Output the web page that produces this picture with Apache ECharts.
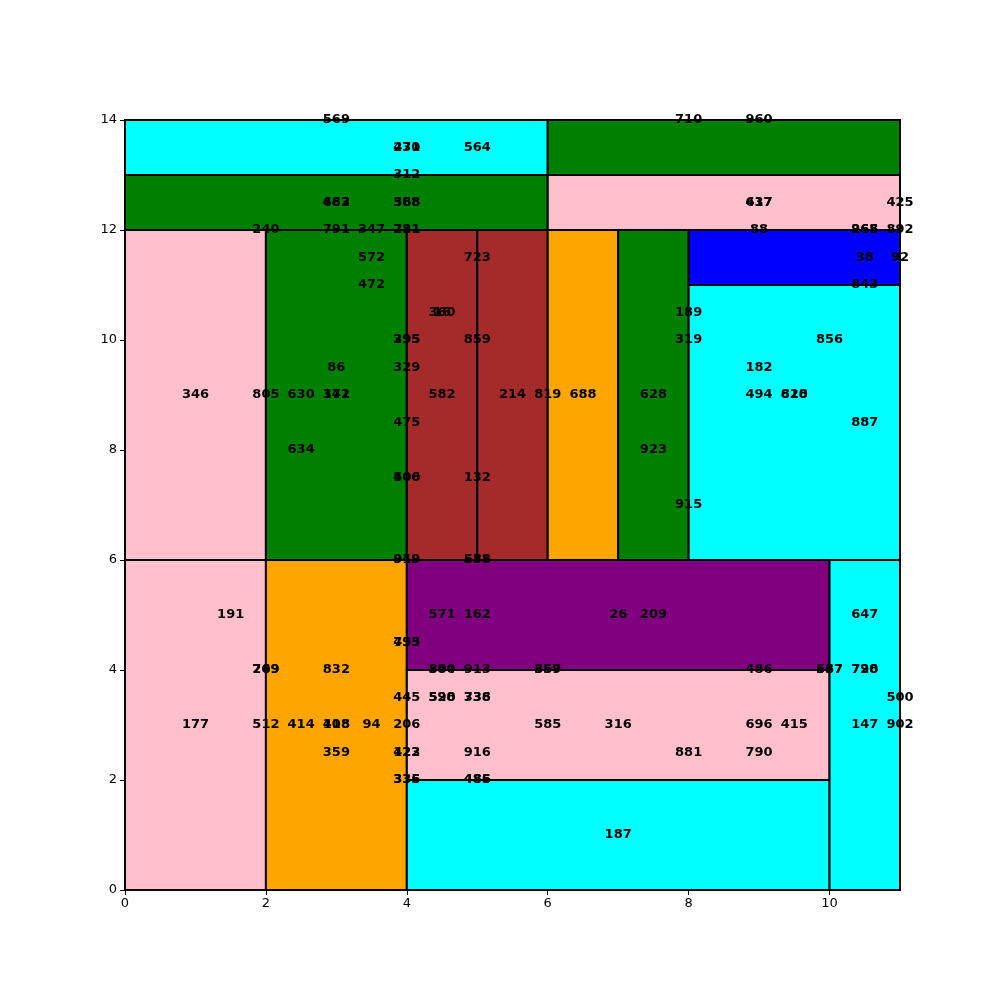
<!DOCTYPE html>
<html>
<head>
<meta charset="utf-8">
<script src="https://cdn.jsdelivr.net/npm/echarts@6/dist/echarts.min.js"></script>
<style>html,body{margin:0;padding:0;background:#fff}#c{width:1000px;height:1000px}</style>
</head>
<body>
<div id="c"></div>
<script>
// Rectangles (data units)
var rectX0 = [0, 6, 0, 6, 0, 2, 4, 5, 6, 7, 8, 8, 0, 2, 4, 4, 4, 10];
var rectY0 = [13, 13, 12, 12, 6, 6, 6, 6, 6, 6, 11, 6, 0, 0, 4, 2, 0, 0];
var rectX1 = [6, 11, 6, 11, 2, 4, 5, 6, 7, 8, 11, 11, 2, 4, 10, 10, 10, 11];
var rectY1 = [14, 14, 13, 13, 12, 12, 12, 12, 12, 12, 12, 11, 6, 6, 6, 4, 2, 6];
var rectColor = ['cyan', 'green', 'green', 'pink', 'pink', 'green', 'brown', 'brown', 'orange', 'green', 'blue', 'cyan', 'pink', 'orange', 'purple', 'pink', 'cyan', 'cyan'];

// Text labels
var labelX = [3, 8, 9, 4, 4, 5, 4, 3, 3, 4, 4, 9, 9, 11, 2, 3, 3.5, 4, 4, 9, 10.5, 10.5, 11, 3.5, 5, 10.5, 11, 3.5, 10.5, 4.5, 4.5, 8, 4, 4, 5, 8, 10, 3, 4, 9, 1, 2, 2.5, 3, 3, 4.5, 5.5, 6, 6.5, 7.5, 9, 9.5, 9.5, 4, 10.5, 2.5, 7.5, 4, 4, 5, 8, 4, 4, 5, 5, 1.5, 4.5, 5, 7, 7.5, 10.5, 4, 4, 2, 2, 3, 4.5, 4.5, 5, 6, 6, 9, 10, 10, 10.5, 10.5, 4, 4.5, 4.5, 5, 5, 11, 1, 2, 2.5, 3, 3, 3.5, 4, 6, 7, 9, 9.5, 10.5, 11, 3, 4, 4, 5, 8, 9, 4, 4, 5, 5, 7];
var labelY = [14, 14, 14, 13.5, 13.5, 13.5, 13, 12.5, 12.5, 12.5, 12.5, 12.5, 12.5, 12.5, 12, 12, 12, 12, 12, 12, 12, 12, 12, 11.5, 11.5, 11.5, 11.5, 11, 11, 10.5, 10.5, 10.5, 10, 10, 10, 10, 10, 9.5, 9.5, 9.5, 9, 9, 9, 9, 9, 9, 9, 9, 9, 9, 9, 9, 9, 8.5, 8.5, 8, 8, 7.5, 7.5, 7.5, 7, 6, 6, 6, 6, 5, 5, 5, 5, 5, 5, 4.5, 4.5, 4, 4, 4, 4, 4, 4, 4, 4, 4, 4, 4, 4, 4, 3.5, 3.5, 3.5, 3.5, 3.5, 3.5, 3, 3, 3, 3, 3, 3, 3, 3, 3, 3, 3, 3, 3, 2.5, 2.5, 2.5, 2.5, 2.5, 2.5, 2, 2, 2, 2, 1];
var labelText = ['569', '710', '960', '430', '271', '564', '312', '483', '662', '368', '588', '417', '637', '425', '240', '791', '347', '721', '281', '88', '965', '268', '892', '572', '723', '38', '92', '472', '843', '360', '16', '189', '395', '295', '859', '319', '856', '86', '329', '182', '346', '805', '630', '342', '171', '582', '214', '819', '688', '628', '494', '620', '818', '475', '887', '634', '923', '500', '406', '132', '915', '949', '919', '538', '588', '191', '571', '162', '26', '209', '647', '795', '433', '709', '269', '832', '380', '804', '913', '357', '559', '486', '567', '537', '728', '790', '445', '598', '520', '736', '338', '500', '177', '512', '414', '408', '118', '94', '206', '585', '316', '696', '415', '147', '902', '359', '422', '123', '916', '881', '790', '335', '336', '485', '486', '187'];

// Axis ticks
var xTicks = [0, 2, 4, 6, 8, 10];
var yTicks = [0, 2, 4, 6, 8, 10, 12, 14];

var colorMap = {cyan: '#00ffff', green: '#008000', pink: '#ffc0cb', brown: '#a52a2a', orange: '#ffa500', blue: '#0000ff', purple: '#800080'};

var rectData = rectX0.map(function (x0, i) { return [x0, rectY0[i], rectX1[i], rectY1[i], i]; });
var labelData = labelX.map(function (x, i) { return [x, labelY[i], i]; });

var chart = echarts.init(document.getElementById('c'), null, {renderer: 'canvas'});
var axisFont = {fontFamily: 'DejaVu Sans', fontSize: 13, color: '#000'};
chart.setOption({
  animation: false,
  backgroundColor: '#fff',
  grid: {left: 125, right: 100, top: 120, bottom: 110, show: true, borderColor: '#000', borderWidth: 1, backgroundColor: 'transparent'},
  xAxis: {
    type: 'value', min: 0, max: 11, interval: 2,
    axisLine: {show: true, lineStyle: {color: '#000'}},
    axisTick: {show: true, inside: false, length: 5, lineStyle: {color: '#000'}},
    axisLabel: Object.assign({margin: 7, showMaxLabel: false, formatter: function (v) { return xTicks.indexOf(v) >= 0 ? String(v) : ''; }}, axisFont),
    splitLine: {show: false}
  },
  yAxis: {
    type: 'value', min: 0, max: 14, interval: 2,
    axisLine: {show: true, lineStyle: {color: '#000'}},
    axisTick: {show: true, inside: false, length: 5, lineStyle: {color: '#000'}},
    axisLabel: Object.assign({margin: 8, formatter: function (v) { return yTicks.indexOf(v) >= 0 ? String(v) : ''; }}, axisFont),
    splitLine: {show: false}
  },
  series: [
    {
      type: 'custom',
      data: rectData,
      encode: {x: [0, 2], y: [1, 3]},
      renderItem: function (params, api) {
        var p0 = api.coord([api.value(0), api.value(1)]);
        var p1 = api.coord([api.value(2), api.value(3)]);
        var idx = api.value(4);
        return {
          type: 'rect',
          shape: {x: Math.min(p0[0], p1[0]), y: Math.min(p0[1], p1[1]), width: Math.abs(p1[0] - p0[0]), height: Math.abs(p1[1] - p0[1])},
          style: {fill: colorMap[rectColor[idx]], stroke: '#000', lineWidth: 2}
        };
      },
      z: 2
    },
    {
      type: 'custom',
      data: labelData,
      encode: {x: 0, y: 1},
      renderItem: function (params, api) {
        var p = api.coord([api.value(0), api.value(1)]);
        var idx = api.value(2);
        return {
          type: 'text',
          x: p[0], y: p[1],
          style: {text: labelText[idx], fill: '#000', font: 'bold 13px "DejaVu Sans"', align: 'center', verticalAlign: 'middle'}
        };
      },
      z: 5
    }
  ]
});
</script>
</body>
</html>
